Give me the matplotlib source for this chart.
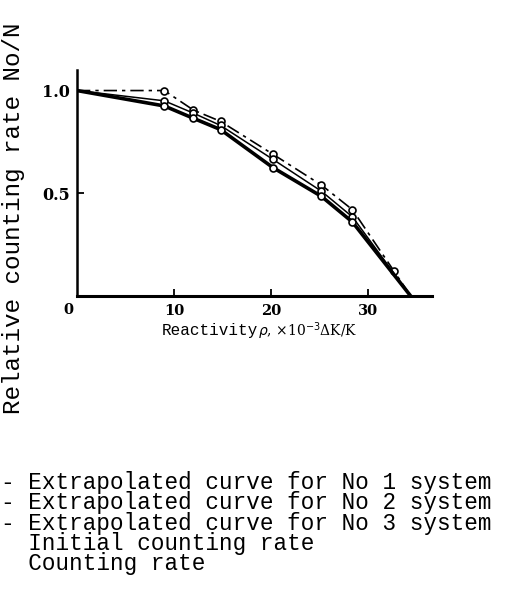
import numpy as np
import matplotlib
matplotlib.use("Agg")
import matplotlib.pyplot as plt

# reactivity (x 10^-3 dK/K) and relative counting rate No/N, three systems
rho_1 = [0, 9, 12, 14.8, 20.2, 25.2, 28.4, 32.7, 34.4]
rate_1 = [1.0, 1.0, 0.905, 0.85, 0.69, 0.54, 0.42, 0.12, 0.0]
rho_2 = [0, 9, 12, 14.8, 20.2, 25.2, 28.4, 34.4]
rate_2 = [1.0, 0.95, 0.89, 0.83, 0.665, 0.51, 0.385, 0.0]
rho_3 = [0, 9, 12, 14.8, 20.2, 25.2, 28.4, 34.4]
rate_3 = [1.0, 0.925, 0.865, 0.81, 0.625, 0.485, 0.36, 0.0]

x_ticks = [10, 20, 30]
y_ticks = [0.5, 1.0]
y_tick_labels = ["0.5", "1.0"]

legend_lines = [
    "- Extrapolated curve for No 1 system",
    "- Extrapolated curve for No 2 system",
    "- Extrapolated curve for No 3 system",
    "  Initial counting rate",
    "  Counting rate",
]

W, H = 505, 593
fig = plt.figure(figsize=(W / 100, H / 100), dpi=100, facecolor="w")
ax = fig.add_axes([77 / W, (H - 296) / H, (432 - 77) / W, (296 - 70) / H])

mk = dict(marker="o", markersize=5, markerfacecolor="white", markeredgecolor="black",
          markeredgewidth=1.2, markevery=slice(1, -1))
ax.plot(rho_1, rate_1, color="black", linestyle=(0, (8, 3, 2, 3)), linewidth=1.2, **mk)
ax.plot(rho_2, rate_2, color="black", linestyle="-", linewidth=1.1, **mk)
ax.plot(rho_3, rate_3, color="black", linestyle="-", linewidth=2.6, **mk)

ax.set_xlim(0, 36.6)
ax.set_ylim(0, 1.1)
ax.spines["top"].set_visible(False)
ax.spines["right"].set_visible(False)
ax.spines["left"].set_linewidth(1.8)
ax.spines["bottom"].set_linewidth(2.2)

serif = dict(family="DejaVu Serif", weight="bold", size=10.5)
ax.set_xticks(x_ticks)
ax.set_xticklabels([str(t) for t in x_ticks], fontdict=serif)
ax.set_yticks(y_ticks)
ax.set_yticklabels(y_tick_labels, fontdict=dict(serif, size=11.5))
ax.tick_params(axis="x", direction="in", length=5, width=1.3, pad=6)
ax.tick_params(axis="y", direction="in", length=5, width=1.3, pad=5)
ax.text(-0.025, -0.03, "0", transform=ax.transAxes, ha="center", va="top", **serif)

mono = ["Liberation Mono", "DejaVu Sans Mono"]
fig.text(14 / W, 1 - 218 / H, "Relative counting rate No/N", rotation=90,
         ha="center", va="center", family=mono, fontsize=17.5)
fig.text(162 / W, 1 - 331 / H, "Reactivity", ha="left", va="center", family=mono, fontsize=11.5)
fig.text(258 / W, 1 - 331 / H, r"$\rho$, ×10$^{-3}$ΔK/K", ha="left", va="center",
         family="DejaVu Serif", fontsize=10)

# legend block, drawn as one text so the lines keep the tight pitch of the original
fs = 16.3
pitch = 19.8
fig.text(1 / W, 1 - (481 - pitch / 2) / H, "\n".join(legend_lines), ha="left", va="top",
         family=mono, fontsize=fs, linespacing=0.966 * pitch / (fs * 100 / 72))

fig.savefig("out.png", dpi=100, facecolor="w")
